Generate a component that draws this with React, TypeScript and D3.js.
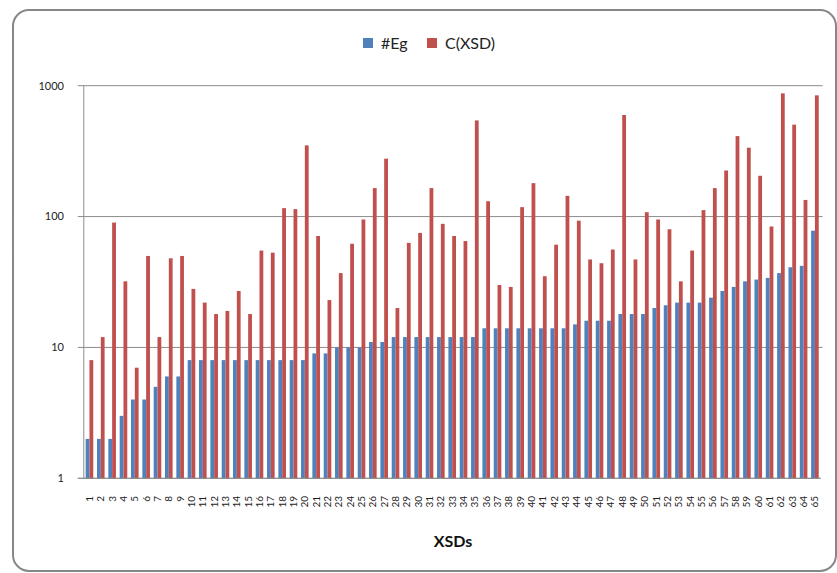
import React, { useEffect, useRef } from "react";
import * as d3 from "d3";

const categories = Array.from({ length: 65 }, (_, i) => String(i + 1));
const egCounts = [
  2, 2, 2, 3, 4, 4, 5, 6, 6, 8, 8, 8, 8, 8, 8, 8, 8, 8, 8, 8,
  9, 9, 10, 10, 10, 11, 11, 12, 12, 12, 12, 12, 12, 12, 12, 14, 14, 14, 14, 14,
  14, 14, 14, 15, 16, 16, 16, 18, 18, 18, 20, 21, 22, 22, 22, 24, 27, 29, 32, 33,
  34, 37, 41, 42, 78,
];
const xsdCounts = [
  8, 12, 90, 32, 7, 50, 12, 48, 50, 28, 22, 18, 19, 27, 18, 55, 53, 116, 114, 350,
  71, 23, 37, 62, 95, 165, 277, 20, 63, 75, 165, 88, 71, 65, 543, 131, 30, 29, 118, 180,
  35, 61, 144, 93, 47, 44, 56, 597, 47, 108, 95, 80, 32, 55, 112, 165, 225, 412, 336, 205,
  84, 874, 504, 134, 844,
];
const seriesNames = ["#Eg", "C(XSD)"];
const seriesColors = ["#4F81BD", "#C0504D"];
const yTicks = [1, 10, 100, 1000];

const W = 837;
const H = 573;

export default function App() {
  const ref = useRef<SVGSVGElement>(null);

  useEffect(() => {
    const svg = d3.select(ref.current);
    svg.selectAll("*").remove();

    const left = 83.8, right = 820.6, top = 85.7, bottom = 478.3;
    const font = "Lato, 'Open Sans', sans-serif";

    // chart frame
    svg.append("rect")
      .attr("x", 13).attr("y", 10)
      .attr("width", 823).attr("height", 561)
      .attr("rx", 16)
      .attr("fill", "white")
      .attr("stroke", "#878787")
      .attr("stroke-width", 2);

    const x0 = d3.scaleBand().domain(categories).range([left, right])
      .paddingInner(0.33).paddingOuter(0.165);
    const x1 = d3.scaleBand().domain(seriesNames).range([0, x0.bandwidth()]);
    const y = d3.scaleLog().domain([1, 1000]).range([bottom, top]);

    // gridlines + ticks
    const g = svg.append("g");
    yTicks.forEach((t) => {
      g.append("line")
        .attr("x1", left - 6).attr("x2", t === 1 ? right : right + 2)
        .attr("y1", y(t)).attr("y2", y(t))
        .attr("stroke", "#8c8c8c").attr("stroke-width", 1);
      g.append("text")
        .attr("x", 64).attr("y", y(t)).attr("dy", "0.35em")
        .attr("text-anchor", "end")
        .attr("font-family", font).attr("font-size", 11)
        .attr("fill", "#222")
        .text(t);
    });
    g.append("line")
      .attr("x1", left).attr("x2", left)
      .attr("y1", top).attr("y2", bottom)
      .attr("stroke", "#8c8c8c");

    // bars
    const data = categories.map((c, i) => ({ c, vals: [egCounts[i], xsdCounts[i]] }));
    const grp = svg.append("g").selectAll("g").data(data).enter().append("g")
      .attr("transform", (d) => "translate(" + x0(d.c) + ",0)");
    grp.selectAll("rect")
      .data((d) => d.vals.map((v, k) => ({ v, k })))
      .enter().append("rect")
      .attr("x", (d) => x1(seriesNames[d.k])!)
      .attr("width", x1.bandwidth())
      .attr("y", (d) => y(d.v))
      .attr("height", (d) => bottom - y(d.v))
      .attr("fill", (d) => seriesColors[d.k]);

    // x axis line on top of bars
    svg.append("line")
      .attr("x1", left - 6).attr("x2", right)
      .attr("y1", bottom).attr("y2", bottom)
      .attr("stroke", "#8c8c8c");

    // category labels
    svg.append("g").selectAll("text").data(categories).enter().append("text")
      .attr("transform", (d) => "translate(" + (x0(d)! + x0.bandwidth() / 2) + "," + 496 + ") rotate(-90)")
      .attr("text-anchor", "end")
      .attr("dy", "0.35em")
      .attr("font-family", font).attr("font-size", 10)
      .attr("fill", "#222")
      .text((d) => d);

    // axis title
    svg.append("text")
      .attr("x", 453).attr("y", 547)
      .attr("text-anchor", "middle")
      .attr("font-family", font).attr("font-size", 16).attr("font-weight", "bold")
      .attr("fill", "#111")
      .text("XSDs");

    // legend
    const legendX = [363, 427];
    seriesNames.forEach((s, i) => {
      svg.append("rect")
        .attr("x", legendX[i]).attr("y", 38)
        .attr("width", 10).attr("height", 10)
        .attr("fill", seriesColors[i]);
      svg.append("text")
        .attr("x", legendX[i] + 18).attr("y", 48.5)
        .attr("font-family", font).attr("font-size", 16)
        .attr("fill", "#222")
        .text(s);
    });
  }, []);

  return (
    <svg ref={ref} width={W} height={H}
      style={{ position: "absolute", left: 0, top: 0, background: "white" }} />
  );
}
